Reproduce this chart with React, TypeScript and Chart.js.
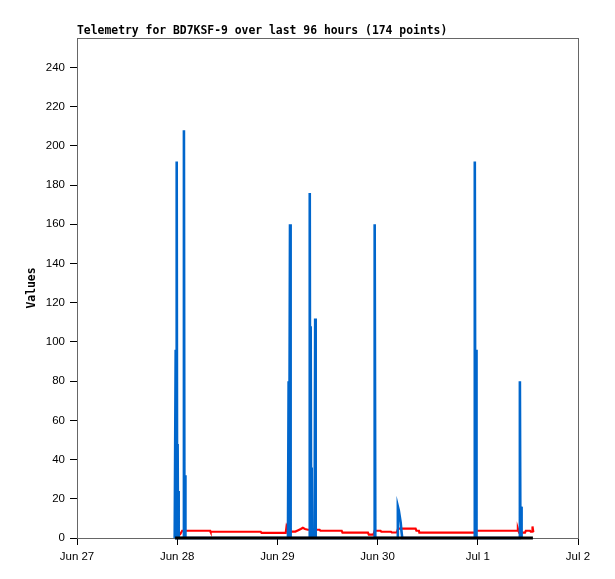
import React, { useEffect, useRef } from "react";
import { Chart, registerables } from "chart.js";

Chart.register(...registerables);

const TITLE = "Telemetry for BD7KSF-9 over last 96 hours (174 points)";
const dayLabels = ["Jun 27", "Jun 28", "Jun 29", "Jun 30", "Jul 1", "Jul 2"];

// hours since Jun 27 00:00
const blueHours = [
  23.4, 23.64, 23.74, 23.88, 23.98, 24.1, 24.2, 24.31, 24.4,
  25.49, 25.61, 25.73, 25.87, 25.97,
  50.53, 50.69, 50.81, 51.02, 51.17,
  55.6, 55.75, 55.85, 55.97, 56.09, 56.21, 56.3,
  56.91, 57.05, 57.17,
  71.16, 71.3, 71.45,
  76.7, 76.85, 77.08, 77.3, 77.52, 77.74, 77.9,
  95.14, 95.28, 95.42, 95.57, 95.69,
  105.94, 106.08, 106.2, 106.37, 106.49,
];
const blueValues = [
  0, 96, 0, 192, 0, 48, 0, 24, 0,
  0, 208, 0, 32, 0,
  0, 80, 0, 160, 0,
  0, 176, 0, 108, 0, 36, 0,
  0, 112, 0,
  0, 160, 0,
  0, 16, 14, 11, 8, 3, 0,
  0, 192, 0, 96, 0,
  0, 80, 0, 16, 0,
];

const redHours = [
  24.6, 25.2, 31.9, 32.0, 44.0, 44.2, 50.0, 50.2, 50.5, 50.9, 52.3,
  53.0, 53.6, 54.1, 54.6, 55.3, 58.1, 58.3, 63.4, 63.6, 69.7, 69.9,
  71.0, 71.3, 72.7, 72.9, 75.2, 75.4, 76.6, 76.9, 81.1, 81.3, 81.9,
  82.0, 95.3, 95.5, 105.4, 105.6, 105.9, 107.3, 107.5, 108.5, 108.7,
  109.0, 109.1, 109.3,
];
const redValues = [
  1.5, 3.7, 3.7, 3.2, 3.2, 2.6, 2.6, 6.0, 4.6, 3.3, 3.3,
  4.0, 4.6, 5.2, 4.6, 4.2, 4.2, 3.7, 3.7, 2.7, 2.7, 1.7,
  1.7, 3.7, 3.7, 3.2, 3.2, 2.8, 2.8, 4.8, 4.8, 3.7, 3.7,
  2.7, 2.7, 3.7, 3.7, 4.8, 2.7, 2.7, 3.7, 3.7, 3.2,
  3.2, 5.9, 3.0,
];

const blackHours = [23.5, 109.2];
const blackValues = [0, 0];

const toPoints = (xs: number[], ys: number[]) => xs.map((x, i) => ({ x, y: ys[i] }));

const boxPlugin = {
  id: "box",
  beforeDatasetsDraw(chart: any) {
    const { ctx, chartArea } = chart;
    ctx.save();
    ctx.strokeStyle = "#666666";
    ctx.lineWidth = 1;
    ctx.strokeRect(chartArea.left + 0.5, chartArea.top + 0.5, chartArea.right - chartArea.left, chartArea.bottom - chartArea.top);
    ctx.restore();
  },
  afterDraw(chart: any) {
    const { ctx, chartArea } = chart;
    ctx.save();
    ctx.font = "bold 11.4px 'DejaVu Sans Mono'";
    ctx.fillStyle = "#000";
    ctx.textBaseline = "bottom";
    ctx.textAlign = "left";
    ctx.fillText(TITLE, chartArea.left, chartArea.top - 1);
    ctx.restore();
  },
};

const App: React.FC = () => {
  const canvasRef = useRef<HTMLCanvasElement | null>(null);
  const chartRef = useRef<Chart | null>(null);

  useEffect(() => {
    if (!canvasRef.current) return;
    if (chartRef.current) chartRef.current.destroy();
    const ctx = canvasRef.current.getContext("2d");
    if (!ctx) return;

    chartRef.current = new Chart(ctx, {
      type: "line",
      data: {
        datasets: [
          {
            label: "black",
            data: toPoints(blackHours, blackValues),
            borderColor: "#000000",
            borderWidth: 3,
            pointRadius: 0,
            clip: 4,
            order: 0,
          },
          {
            label: "blue",
            data: toPoints(blueHours, blueValues),
            borderColor: "#0066cc",
            borderWidth: 2.6,
            pointRadius: 0,
            clip: 4,
            order: 1,
          },
          {
            label: "red",
            data: toPoints(redHours, redValues),
            borderColor: "#ff0000",
            borderWidth: 2.2,
            pointRadius: 0,
            clip: 4,
            order: 2,
          },
        ],
      },
      options: {
        animation: false,
        responsive: false,
        layout: { padding: { left: 0, right: 37, top: 38, bottom: 0 } },
        plugins: {
          legend: { display: false },
          tooltip: { enabled: false },
          title: { display: false },
        },
        scales: {
          x: {
            type: "linear",
            min: 0,
            max: 120,
            afterFit: (scale: any) => {
              scale.height = 41;
            },
            afterBuildTicks: (scale: any) => {
              scale.ticks = dayLabels.map((_, i) => ({ value: i * 24 }));
            },
            ticks: {
              color: "#000",
              font: { family: "'Liberation Sans'", size: 11.5 },
              padding: 5,
              maxRotation: 0,
              autoSkip: false,
              callback: (v: any) => dayLabels[Math.round(Number(v) / 24)],
            },
            grid: { drawOnChartArea: false, color: "#000", tickLength: 7 },
            border: { color: "#000" },
          },
          y: {
            min: 0,
            max: 255,
            afterFit: (scale: any) => {
              scale.width = 77;
            },
            afterBuildTicks: (scale: any) => {
              scale.ticks = scale.ticks.filter((t: any) => t.value % 20 === 0);
            },
            ticks: {
              stepSize: 20,
              color: "#000",
              font: { family: "'Liberation Sans'", size: 11.5 },
              padding: 5,
            },
            grid: { drawOnChartArea: false, color: "#000", tickLength: 7 },
            border: { color: "#000" },
            title: {
              display: true,
              text: "Values",
              color: "#000",
              font: { family: "'DejaVu Sans Mono'", size: 11.4, weight: "bold" },
              padding: { top: 25, bottom: 0 },
            },
          },
        },
      },
      plugins: [boxPlugin],
    });

    return () => {
      if (chartRef.current) {
        chartRef.current.destroy();
        chartRef.current = null;
      }
    };
  }, []);

  return (
    <div style={{ position: "absolute", left: 0, top: 0, width: 615, height: 579, background: "#fff" }}>
      <canvas ref={canvasRef} width={615} height={579}></canvas>
    </div>
  );
};

export default App;
